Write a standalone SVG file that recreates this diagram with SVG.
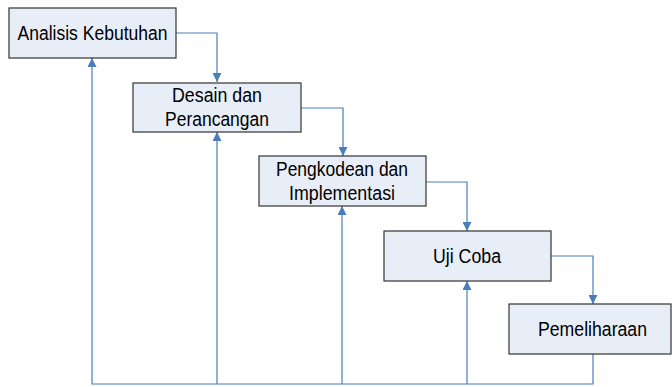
<svg xmlns="http://www.w3.org/2000/svg" width="672" height="387" viewBox="0 0 672 387">
<defs>
<style>
.box{fill:#E8EEF8;stroke:#333;stroke-width:1.2}
.lbl{font-family:"Liberation Sans",Arial,sans-serif;font-size:20px;fill:#000;text-anchor:middle}
.ln{fill:none;stroke:#4A7EBB;stroke-width:1.2}
</style>
<marker id="ah" viewBox="0 0 10 10" refX="10" refY="5" markerWidth="11" markerHeight="9" markerUnits="userSpaceOnUse" orient="auto">
<path d="M0,0 L10,5 L0,10 z" fill="#4A7EBB"/>
</marker>
</defs>
<rect width="672" height="387" fill="#fff"/>
<g id="connectors">
<path class="ln" d="M176,33 H217 V82" marker-end="url(#ah)"/>
<path class="ln" d="M301,108 H343 V156" marker-end="url(#ah)"/>
<path class="ln" d="M426,182 H467 V231" marker-end="url(#ah)"/>
<path class="ln" d="M551,256 H593 V304" marker-end="url(#ah)"/>
<path class="ln" d="M593,354 V384 H92 V58" marker-end="url(#ah)"/>
<path class="ln" d="M217,384 V132" marker-end="url(#ah)"/>
<path class="ln" d="M342,384 V206" marker-end="url(#ah)"/>
<path class="ln" d="M467,384 V281" marker-end="url(#ah)"/>
</g>
<g id="n1">
<rect class="box" x="9" y="8" width="167" height="50"/>
<text class="lbl" x="92.5" y="40" textLength="150" lengthAdjust="spacingAndGlyphs">Analisis Kebutuhan</text>
</g>
<g id="n2">
<rect class="box" x="133" y="83" width="168" height="49"/>
<text class="lbl" x="217" y="102" textLength="90" lengthAdjust="spacingAndGlyphs">Desain dan</text>
<text class="lbl" x="217" y="126" textLength="104" lengthAdjust="spacingAndGlyphs">Perancangan</text>
</g>
<g id="n3">
<rect class="box" x="259" y="156" width="167" height="50"/>
<text class="lbl" x="342" y="175.5" textLength="132" lengthAdjust="spacingAndGlyphs">Pengkodean dan</text>
<text class="lbl" x="342" y="200" textLength="106" lengthAdjust="spacingAndGlyphs">Implementasi</text>
</g>
<g id="n4">
<rect class="box" x="384" y="231" width="167" height="50"/>
<text class="lbl" x="467" y="262.5" textLength="68" lengthAdjust="spacingAndGlyphs">Uji Coba</text>
</g>
<g id="n5">
<rect class="box" x="509" y="304" width="162" height="50"/>
<text class="lbl" x="592.5" y="335.5" textLength="109" lengthAdjust="spacingAndGlyphs">Pemeliharaan</text>
</g>
</svg>
